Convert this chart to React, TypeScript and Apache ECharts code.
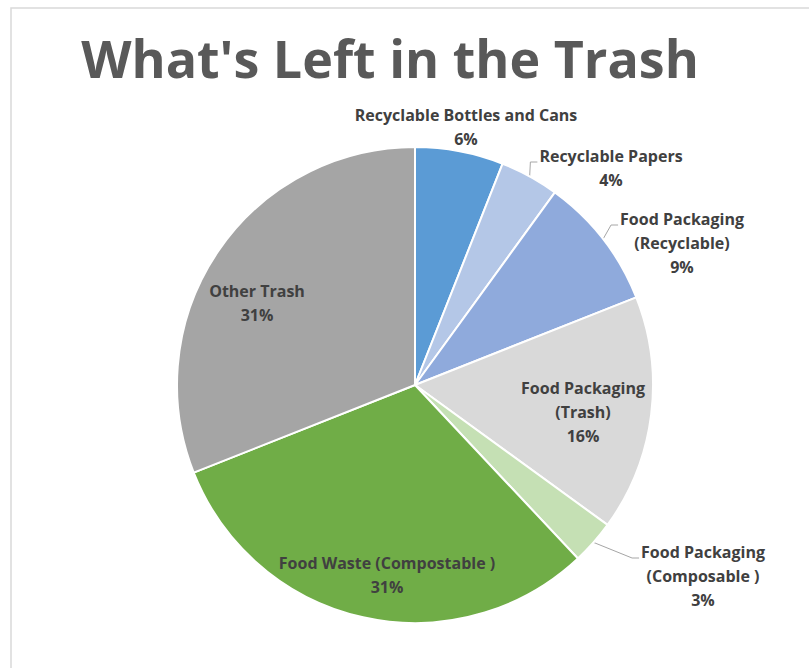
import React, { useEffect, useRef } from "react";
import * as echarts from "echarts";

const titleText = "What's Left in the Trash";
const categories = [
  "Recyclable Bottles and Cans",
  "Recyclable Papers",
  "Food Packaging\n(Recyclable)",
  "Food Packaging\n(Trash)",
  "Food Packaging\n(Composable )",
  "Food Waste (Compostable )",
  "Other Trash",
];
const values = [6, 4, 9, 16, 3, 31, 31];
const colors = ["#5B9BD5", "#B4C7E7", "#8FAADC", "#D9D9D9", "#C5E0B4", "#70AD47", "#A5A5A5"];
const hasLeader = [false, true, true, false, true, false, false];
// label anchor (center x, top y) for each slice's text block
const labelAnchors: [number, number][] = [
  [466, 103],
  [611, 144],
  [682, 207],
  [583, 376],
  [703, 540],
  [387, 551],
  [257, 279],
];

const FONT = "'Open Sans', 'Noto Sans', sans-serif";

export default function App() {
  const ref = useRef<HTMLDivElement>(null);
  useEffect(() => {
    if (!ref.current) return;
    const chart = echarts.init(ref.current, null, { renderer: "svg" });
    chart.setOption({
      animation: false,
      backgroundColor: "#ffffff",
      graphic: [
        {
          type: "rect",
          shape: { x: 11, y: 8, width: 900, height: 800 },
          style: { fill: "none", stroke: "#d9d9d9", lineWidth: 1.5 },
          silent: true,
        },
        {
          type: "text",
          x: 390,
          y: 57,
          style: {
            text: titleText,
            align: "center",
            verticalAlign: "middle",
            fontFamily: FONT,
            fontWeight: "bold",
            fontSize: 52,
            fill: "#595959",
          },
        },
      ],
      series: [
        {
          type: "pie",
          center: [415, 385],
          radius: 238,
          startAngle: 90,
          clockwise: true,
          percentPrecision: 0,
          itemStyle: { borderColor: "#ffffff", borderWidth: 2 },
          label: {
            show: true,
            position: "outside",
            formatter: "{b}\n{d}%",
            fontFamily: FONT,
            fontWeight: "bold",
            fontSize: 16,
            lineHeight: 24,
            color: "#404040",
            align: "center",
          },
          labelLine: {
            show: true,
            length: 10,
            length2: 8,
            lineStyle: { color: "#a6a6a6", width: 1 },
          },
          labelLayout: (params: any) => {
            const i = params.dataIndex;
            const [cx, top] = labelAnchors[i];
            const w = params.labelRect.width;
            const res: any = { x: cx, y: top, align: "center", verticalAlign: "top" };
            if (hasLeader[i] && params.labelLinePoints) {
              const p0 = params.labelLinePoints[0];
              const endX = cx - w / 2 - 2;
              const endY = top + 18;
              res.labelLinePoints = [
                [p0[0], p0[1]],
                [endX - 7, endY],
                [endX, endY],
              ];
            }
            return res;
          },
          data: categories.map((name, i) => ({
            name,
            value: values[i],
            itemStyle: { color: colors[i] },
            labelLine: { show: hasLeader[i] },
          })),
        },
      ],
    });
    return () => chart.dispose();
  }, []);
  return (
    <div
      ref={ref}
      style={{ position: "absolute", left: 0, top: 0, width: 809, height: 668 }}
    />
  );
}
